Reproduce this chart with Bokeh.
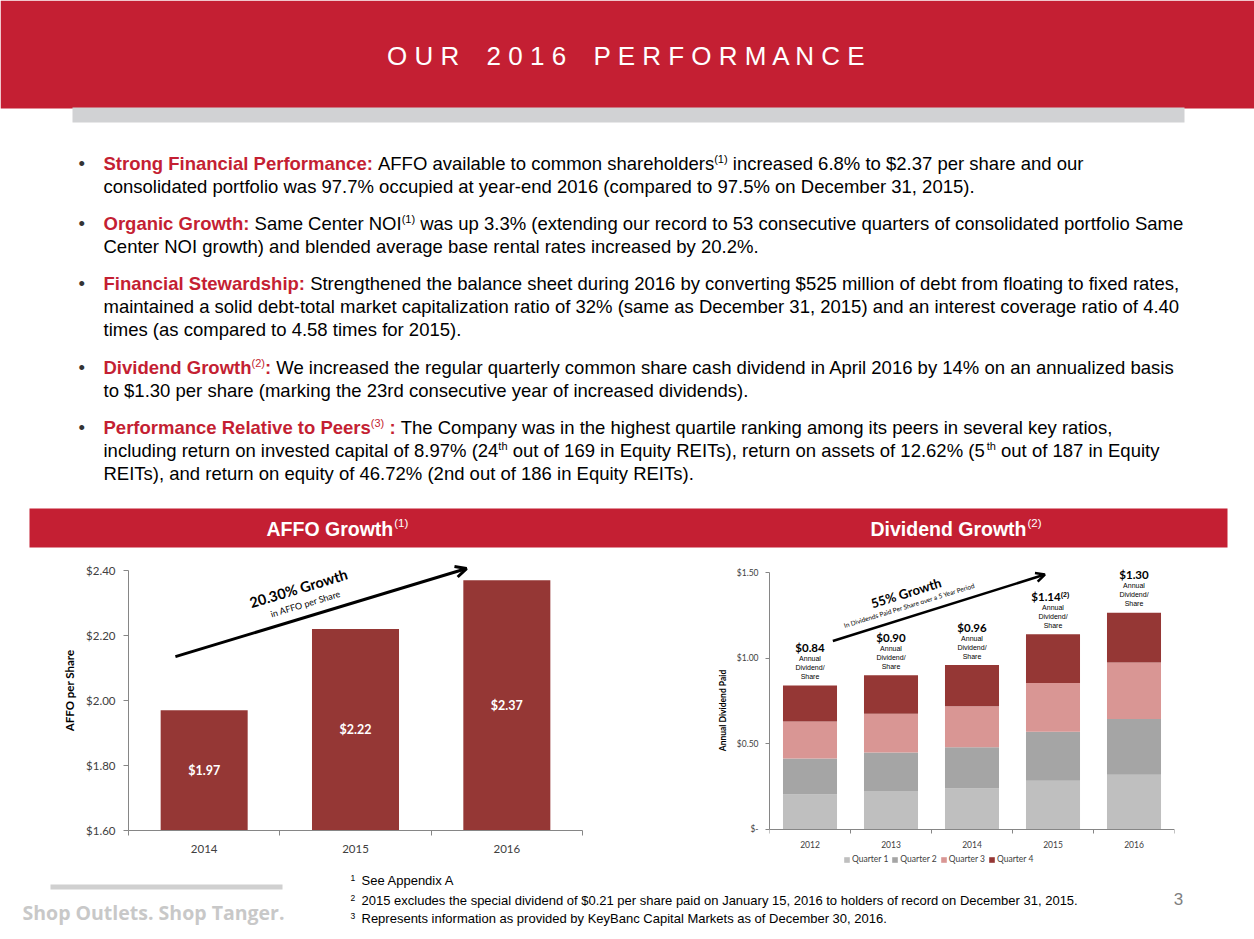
from bokeh.plotting import figure
from bokeh.models import (Range1d, FixedTicker, Legend, LegendItem, Arrow, OpenHead,
                          ColumnDataSource, CustomJSTickFormatter)
from bokeh.layouts import column, row
from bokeh.embed import file_html
from bokeh.resources import INLINE
from bokeh.core.properties import value

# ---------------- data ----------------
affo_years = ["2014", "2015", "2016"]
affo_per_share = [1.97, 2.22, 2.37]
affo_bar_labels = ["$1.97", "$2.22", "$2.37"]
affo_ticks = [1.60, 1.80, 2.00, 2.20, 2.40]

div_years = ["2012", "2013", "2014", "2015", "2016"]
div_q1 = [0.205, 0.225, 0.240, 0.285, 0.320]
div_q2 = [0.210, 0.225, 0.240, 0.285, 0.325]
div_q3 = [0.215, 0.225, 0.240, 0.285, 0.330]
div_q4 = [0.210, 0.225, 0.240, 0.285, 0.290]
div_total_labels = ["$0.84", "$0.90", "$0.96", "$1.14", "$1.30"]
div_total_notes = ["", "", "", "(2)", ""]
div_ticks = [0.0, 0.5, 1.0, 1.5]
quarter_names = ["Quarter 1", "Quarter 2", "Quarter 3", "Quarter 4"]

# ---------------- style ----------------
RED = "#c41f33"
BAR_RED = "#953735"
Q_COLORS = ["#bfbfbf", "#a5a5a5", "#d99694", "#953735"]
AX = "#868686"
TXT = "#404040"
SANS = "Liberation Sans"
CAL = "Lato"

# approximate Arial / Liberation Sans advance widths (1/1000 em) for run layout
_REG = {' ': 278, '!': 278, '$': 556, '%': 889, '(': 333, ')': 333, ',': 278, '-': 333, '.': 278,
        '/': 278, ':': 278, ';': 278, 'A': 667, 'B': 667, 'C': 722, 'D': 722, 'E': 667, 'F': 611,
        'G': 778, 'H': 722, 'I': 278, 'J': 500, 'K': 667, 'L': 556, 'M': 833, 'N': 722, 'O': 778,
        'P': 667, 'Q': 778, 'R': 722, 'S': 667, 'T': 611, 'U': 722, 'V': 667, 'W': 944, 'X': 667,
        'Y': 667, 'Z': 611, 'a': 556, 'b': 556, 'c': 500, 'd': 556, 'e': 556, 'f': 278, 'g': 556,
        'h': 556, 'i': 222, 'j': 222, 'k': 500, 'l': 222, 'm': 833, 'n': 556, 'o': 556, 'p': 556,
        'q': 556, 'r': 333, 's': 500, 't': 278, 'u': 556, 'v': 500, 'w': 722, 'x': 500, 'y': 500,
        'z': 500}
_BOLD = dict(_REG)
_BOLD.update({'!': 333, ':': 333, 'A': 722, 'B': 722, 'J': 556, 'K': 722, 'L': 611, 'b': 611,
              'c': 556, 'd': 611, 'f': 333, 'g': 611, 'h': 611, 'i': 278, 'j': 278, 'k': 556,
              'l': 278, 'm': 889, 'n': 611, 'o': 611, 'p': 611, 'q': 611, 'r': 389, 's': 556,
              't': 333, 'u': 611, 'v': 556, 'w': 778, 'x': 556, 'y': 556})


def tw(s, size, bold=False):
    tbl = _BOLD if bold else _REG
    return sum(tbl.get(c, 556) for c in s) * size / 1000.0


def blank(w, h, xr, yr):
    f = figure(width=w, height=h, x_range=Range1d(*xr), y_range=Range1d(*yr),
               output_backend="svg", toolbar_location=None, x_axis_type=None,
               y_axis_type=None, min_border=0)
    f.outline_line_color = None
    f.grid.visible = False
    f.background_fill_color = "white"
    f.border_fill_color = "white"
    return f


W = 1254

# ---------------- top: title bar + bullets + section bar ----------------
top = blank(W, 550, (0, W), (550, 0))
top.quad(left=[0], right=[W], top=[0], bottom=[108], color=RED, line_color=None)
top.quad(left=[72], right=[1184], top=[107], bottom=[122], color="#d1d2d4", line_color=None)
top.quad(left=[29], right=[1227], top=[508], bottom=[547], color=RED, line_color=None)

top.text(x=[627], y=[55], text=["O U R \u2002 2 0 1 6 \u2002 P E R F O R M A N C E"],
         text_align="center", text_baseline="middle", text_color="white",
         text_font=value(SANS), text_font_size="26px")

FS = 18.5
SUP = 11
bullet_lines = [
    (163, True, [("Strong Financial Performance:", "b"), (" AFFO available to common shareholders", "n"),
                 ("(1)", "s"), (" increased 6.8% to $2.37 per share and our", "n")]),
    (186, False, [("consolidated portfolio was 97.7% occupied at year-end 2016 (compared to 97.5% on December 31, 2015).", "n")]),
    (223, True, [("Organic Growth:", "b"), (" Same Center NOI", "n"), ("(1)", "s"),
                 (" was up 3.3% (extending our record to 53 consecutive quarters of consolidated portfolio Same", "n")]),
    (246, False, [("Center NOI growth) and blended average base rental rates increased by 20.2%.", "n")]),
    (283, True, [("Financial Stewardship:", "b"),
                 (" Strengthened the balance sheet during 2016 by converting $525 million of debt from floating to fixed rates,", "n")]),
    (306, False, [("maintained a solid debt-total market capitalization ratio of 32% (same as December 31, 2015) and an interest coverage ratio of 4.40", "n")]),
    (329, False, [("times (as compared to 4.58 times for 2015).", "n")]),
    (367, True, [("Dividend Growth", "b"), ("(2)", "sr"), (":", "b"),
                 (" We increased the regular quarterly common share cash dividend in April 2016 by 14% on an annualized basis", "n")]),
    (390, False, [("to $1.30 per share (marking the 23rd consecutive year of increased dividends).", "n")]),
    (427, True, [("Performance Relative to Peers", "b"), ("(3)", "sr"), (" :", "b"),
                 (" The Company was in the highest quartile ranking among its peers in several key ratios,", "n")]),
    (450, False, [("including return on invested capital of 8.97% (24", "n"), ("th", "s"),
                  (" out of 169 in Equity REITs), return on assets of 12.62% (5", "n"), ("th", "s"),
                  (" out of 187 in Equity", "n")]),
    (473, False, [("REITs), and return on equity of 46.72% (2nd out of 186 in Equity REITs).", "n")]),
]

groups = {k: dict(x=[], y=[], text=[]) for k in ("b", "n", "s", "sr")}
bul = dict(x=[], y=[], text=[])
for mid, has_bullet, runs in bullet_lines:
    if has_bullet:
        bul["x"].append(78)
        bul["y"].append(mid)
        bul["text"].append("\u2022")
    x = 103.0
    for txt, kind in runs:
        lead = len(txt) - len(txt.lstrip(" "))
        body = txt.strip(" ")
        if kind in ("s", "sr"):
            size, bold, yy = SUP, False, mid - 5
        else:
            size, bold, yy = FS, kind == "b", mid
        x += tw(" " * lead, size, bold)
        groups[kind]["x"].append(x)
        groups[kind]["y"].append(yy)
        groups[kind]["text"].append(body)
        x += tw(body, size, bold)

styles = {"b": (FS, "bold", RED), "n": (FS, "normal", "black"),
          "s": (SUP, "normal", "black"), "sr": (SUP, "normal", RED)}
for k, d in groups.items():
    size, st, col = styles[k]
    top.text(x="x", y="y", text="text", source=ColumnDataSource(d), text_font=value(SANS),
             text_font_size=f"{size}px", text_font_style=st, text_color=col,
             text_align="left", text_baseline="middle")
top.text(x="x", y="y", text="text", source=ColumnDataSource(bul), text_font=value(SANS),
         text_font_size=f"{FS}px", text_color="#333333", text_align="left", text_baseline="middle")

# section headers
for title, note, x0 in (("AFFO Growth", "(1)", 266), ("Dividend Growth", "(2)", 870)):
    top.text(x=[x0], y=[528], text=[title], text_font=value(SANS), text_font_size="19.5px",
             text_font_style="bold", text_color="white", text_baseline="middle")
    top.text(x=[x0 + tw(title, 19.5, True) + 1], y=[522], text=[note], text_font=value(SANS),
             text_font_size="11.5px", text_color="white", text_baseline="middle")


def style_axes(p, tick_size, label_size):
    for ax in (p.xaxis[0], p.yaxis[0]):
        ax.axis_line_color = AX
        ax.major_tick_line_color = AX
        ax.minor_tick_line_color = AX
        ax.major_label_text_font = CAL
        ax.major_label_text_color = TXT
        ax.major_label_text_font_size = tick_size
        ax.axis_label_text_font = CAL
        ax.axis_label_text_font_style = "bold"
        ax.axis_label_text_color = "black"
        ax.axis_label_text_font_size = label_size
    p.grid.visible = False
    p.outline_line_color = None
    p.background_fill_color = "white"
    p.border_fill_color = "white"


# ---------------- AFFO chart ----------------
n_a = len(affo_years)
affo_x = [i + 0.5 for i in range(n_a)]
pa = figure(frame_width=454, frame_height=280, x_range=Range1d(0, n_a),
            y_range=Range1d(affo_ticks[0], affo_ticks[-1] + 20 / 325.0),
            output_backend="svg", toolbar_location=None,
            min_border_left=128, min_border_right=58, min_border_top=0, min_border_bottom=40)
pa.vbar(x=affo_x, top=affo_per_share, bottom=affo_ticks[0], width=0.575, color=BAR_RED, line_color=None)
pa.text(x=affo_x, y=[(affo_ticks[0] + v) / 2 for v in affo_per_share], text=affo_bar_labels,
        text_color="white", text_font=value(CAL), text_font_style="bold", text_font_size="12.5px",
        text_align="center", text_baseline="middle")
style_axes(pa, "11.5px", "11.5px")
ya = pa.yaxis[0]
ya.ticker = FixedTicker(ticks=affo_ticks)
ya.formatter = CustomJSTickFormatter(code="return '$' + tick.toFixed(2);")
ya.bounds = (affo_ticks[0], affo_ticks[-1])
ya.axis_label = "AFFO per Share"
ya.axis_label_standoff = 7
ya.major_label_standoff = 8
ya.major_tick_out = 5
ya.major_tick_in = 0
xa = pa.xaxis[0]
xa.ticker = FixedTicker(ticks=affo_x, minor_ticks=list(range(n_a + 1)))
xa.formatter = CustomJSTickFormatter(args=dict(labels=affo_years),
                                     code="return labels[Math.floor(tick)] || '';")
xa.major_tick_out = 0
xa.major_tick_in = 0
xa.minor_tick_out = 5
xa.minor_tick_in = 0
xa.major_label_standoff = 9
pa.add_layout(Arrow(end=OpenHead(size=11, line_width=3, line_color="black"),
                    x_start=0.31, y_start=2.135, x_end=2.234, y_end=2.406,
                    line_width=3, line_color="black"))
pa.text(x=[1.123], y=[2.345], text=["20.30% Growth"], angle=0.293, text_font=value(CAL),
        text_font_style="bold", text_font_size="14.5px", text_align="center", text_baseline="middle",
        text_color="black")
pa.text(x=[1.17], y=[2.298], text=["in AFFO per Share"], angle=0.293, text_font=value(CAL),
        text_font_size="9px", text_align="center", text_baseline="middle", text_color="black")

# ---------------- Dividend chart ----------------
# frame reaches the bottom of the row; x axis is pinned at $0 so the legend can sit below it
PXU = 171.33  # screen px per dollar
n_d = len(div_years)
div_x = [i + 0.5 for i in range(n_d)]
div_tot = [a + b + c + d for a, b, c, d in zip(div_q1, div_q2, div_q3, div_q4)]
src = ColumnDataSource(dict(x=div_x, q1=div_q1, q2=div_q2, q3=div_q3, q4=div_q4))
pd_ = figure(frame_width=405, frame_height=320, x_range=Range1d(0, n_d),
             y_range=Range1d(-41 / PXU, div_ticks[-1] + 22 / PXU),
             output_backend="svg", toolbar_location=None,
             min_border_left=129, min_border_right=80, min_border_top=0, min_border_bottom=0)
rs = pd_.vbar_stack(["q1", "q2", "q3", "q4"], x="x", width=0.667, color=Q_COLORS,
                    line_color=None, source=src)
pd_.text(x=div_x, y=div_tot, text=div_total_labels, y_offset=-38,
         x_offset=[-7 if n else 0 for n in div_total_notes],
         text_font=value(CAL), text_font_style="bold", text_font_size="11.5px",
         text_align="center", text_baseline="middle", text_color="black")
pd_.text(x=div_x, y=div_tot, text=div_total_notes, y_offset=-40, x_offset=12,
         text_font=value(SANS), text_font_style="bold", text_font_size="7px",
         text_align="center", text_baseline="middle", text_color="black")
for line_txt, off in (("Annual", -27), ("Dividend/", -18), ("Share", -9)):
    pd_.text(x=div_x, y=div_tot, text=[line_txt] * n_d, y_offset=off,
             text_font=value(SANS), text_font_size="7px",
             text_align="center", text_baseline="middle", text_color="black")
style_axes(pd_, "8.5px", "8.5px")
yd = pd_.yaxis[0]
yd.ticker = FixedTicker(ticks=div_ticks)
yd.formatter = CustomJSTickFormatter(code="return tick == 0 ? '$-' : '$' + tick.toFixed(2);")
yd.bounds = (div_ticks[0], div_ticks[-1])
yd.axis_label = "Annual Dividend Paid"
yd.axis_label_standoff = 6
yd.major_label_standoff = 7
yd.major_tick_out = 4
yd.major_tick_in = 0
xd = pd_.xaxis[0]
xd.fixed_location = 0
xd.ticker = FixedTicker(ticks=div_x, minor_ticks=list(range(n_d + 1)))
xd.formatter = CustomJSTickFormatter(args=dict(labels=div_years),
                                     code="return labels[Math.floor(tick)] || '';")
xd.major_tick_out = 0
xd.major_tick_in = 0
xd.minor_tick_out = 4
xd.minor_tick_in = 0
xd.major_label_standoff = 8
legend = Legend(items=[LegendItem(label=q, renderers=[r]) for q, r in zip(quarter_names, rs)],
                orientation="horizontal", location=(74, 6), label_text_font=CAL,
                label_text_font_size="8.5px", label_text_color=TXT, glyph_width=7, glyph_height=7,
                label_height=9, label_standoff=2, spacing=3, padding=0, margin=0,
                border_line_color=None, background_fill_alpha=0)
pd_.add_layout(legend)
pd_.add_layout(Arrow(end=OpenHead(size=9, line_width=2.5, line_color="black"),
                     x_start=0.782, y_start=1.10, x_end=3.40, y_end=1.488,
                     line_width=2.5, line_color="black"))
pd_.text(x=[1.685], y=[1.381], text=["55% Growth"], angle=0.30, text_font=value(CAL),
         text_font_style="bold", text_font_size="13px", text_align="center", text_baseline="middle",
         text_color="black")
pd_.text(x=[1.728], y=[1.308], text=["In Dividends Paid Per Share over a 5 Year Period"], angle=0.30,
         text_font=value(CAL), text_font_size="6.5px", text_align="center", text_baseline="middle",
         text_color="black")

# ---------------- footer ----------------
foot = blank(W, 69, (0, W), (939, 870))
foot.quad(left=[50], right=[282], top=[884], bottom=[889], color="#d0d0d0", line_color=None)
foot.text(x=[22], y=[912], text=["Shop Outlets. Shop Tanger."], text_font=value("Open Sans"),
          text_font_style="bold", text_font_size="19.5px", text_color="#c8c8c8",
          text_baseline="middle")
FN = 13
notes = [("1", "See Appendix A", 880),
         ("2", "2015 excludes the special dividend of $0.21 per share paid on January 15, 2016 to holders of record on December 31, 2015.", 900),
         ("3", "Represents information as provided by KeyBanc Capital Markets as of December 30, 2016.", 918)]
foot.text(x=[350] * 3, y=[n[2] - 3 for n in notes], text=[n[0] for n in notes], text_font=value(SANS),
          text_font_size="8.5px", text_color="black", text_baseline="middle")
foot.text(x=[361] * 3, y=[n[2] for n in notes], text=[n[1] for n in notes], text_font=value(SANS),
          text_font_size=f"{FN}px", text_color="black", text_baseline="middle")
foot.text(x=[1178], y=[898], text=["3"], text_font=value(SANS), text_font_size="17px",
          text_color="#7f7f7f", text_align="center", text_baseline="middle")

layout = column(top, row(pa, pd_), foot)
open("out.html", "w").write(file_html(layout, INLINE))
